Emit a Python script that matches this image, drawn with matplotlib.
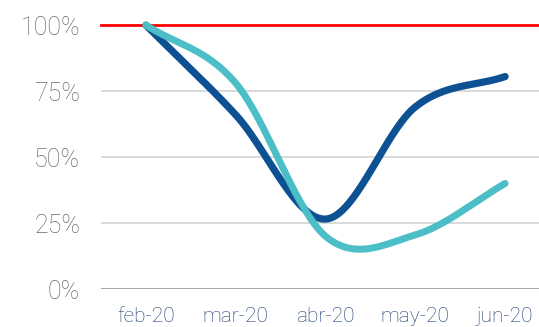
import numpy as np
import matplotlib
matplotlib.use("Agg")
import matplotlib.pyplot as plt
from matplotlib.ticker import FuncFormatter

months = ["feb-20", "mar-20", "abr-20", "may-20", "jun-20"]
serie_a = [1.00, 0.66, 0.265, 0.69, 0.805]   # azul oscuro
serie_b = [1.00, 0.78, 0.20, 0.205, 0.40]    # turquesa
referencia = 1.00
y_ticks = [0, 0.25, 0.5, 0.75, 1.0]


def smooth(values, n=40):
    """Curva suavizada tipo Catmull-Rom que pasa por cada punto."""
    p = np.asarray(values, dtype=float)
    k = len(p)
    m = np.empty(k)
    m[0] = p[1] - p[0]
    m[-1] = p[-1] - p[-2]
    m[1:-1] = (p[2:] - p[:-2]) / 2
    xs, ys = [], []
    t = np.linspace(0, 1, n)
    h00 = 2 * t**3 - 3 * t**2 + 1
    h10 = t**3 - 2 * t**2 + t
    h01 = -2 * t**3 + 3 * t**2
    h11 = t**3 - t**2
    for i in range(k - 1):
        xs.append(i + t)
        ys.append(h00 * p[i] + h10 * m[i] + h01 * p[i + 1] + h11 * m[i + 1])
    return np.concatenate(xs), np.concatenate(ys)


plt.rcParams["font.family"] = ["Roboto", "DejaVu Sans"]

fig = plt.figure(figsize=(5.39, 3.27), dpi=100)
ax = fig.add_axes([0.1874, 0.1162, 0.833, 0.807])

ax.set_xlim(-0.5, len(months) - 0.5)
ax.set_ylim(0, 1.0)

for y in y_ticks[1:-1]:
    ax.axhline(y, color="#d3d3d3", lw=1.2, zorder=1)
ax.axhline(0, color="#a6a6a6", lw=1.4, zorder=1)
ax.axhline(referencia, color="#ff0000", lw=2.0, zorder=2, clip_on=False)

xa, ya = smooth(serie_a)
xb, yb = smooth(serie_b)
ax.plot(xa, ya, color="#0d5193", lw=5.2, solid_capstyle="round", zorder=3, clip_on=False)
ax.plot(xb, yb, color="#4bbec8", lw=5.0, solid_capstyle="round", zorder=4, clip_on=False)

ax.set_xticks(range(len(months)))
ax.set_xticklabels(months)
ax.set_yticks(y_ticks)
ax.yaxis.set_major_formatter(FuncFormatter(lambda v, _: f"{v * 100:.0f}%"))

ax.tick_params(axis="x", length=0, pad=13, labelsize=15, labelcolor="#1c3a72")
ax.tick_params(axis="y", length=0, pad=15, labelsize=18, labelcolor="#6a6a6a")
for lab in ax.get_xticklabels() + ax.get_yticklabels():
    lab.set_fontweight("light")

for s in ax.spines.values():
    s.set_visible(False)

fig.savefig("out.png", dpi=100)
